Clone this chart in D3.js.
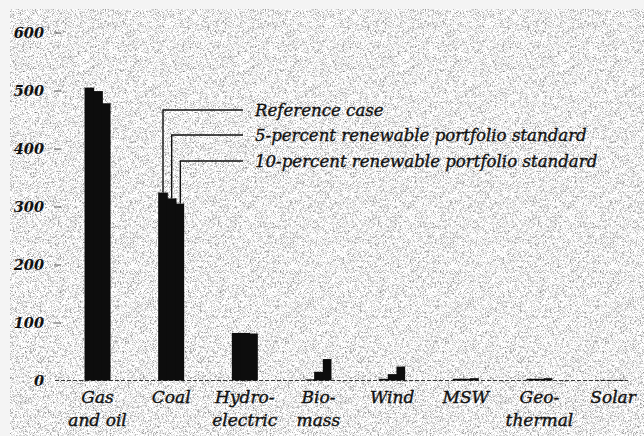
<!DOCTYPE html>
<html>
<head>
<meta charset="utf-8">
<script src="https://cdn.jsdelivr.net/npm/d3@7"></script>
<style>
  body { margin: 0; background: #f4f4f4; }
  svg { display: block; }
  .tick text { font-family: "DejaVu Serif", serif; font-style: italic; font-weight: bold; font-size: 14.5px; fill: #111; }
  .cat { font-family: "DejaVu Serif", serif; font-style: italic; font-size: 17px; fill: #111; stroke: #111; stroke-width: 0.35px; }
  .legend { font-family: "DejaVu Serif", serif; font-style: italic; font-size: 16.6px; fill: #111; stroke: #111; stroke-width: 0.35px; }
</style>
</head>
<body>
<div class="chart"></div>
<script>
var svgWidth = 644;
var svgHeight = 436;

// capacity by source, gigawatts
var categories = ["Gas and oil", "Coal", "Hydroelectric", "Biomass", "Wind", "MSW", "Geothermal", "Solar"];
var catLabels = [["Gas", "and oil"], ["Coal"], ["Hydro-", "electric"], ["Bio-", "mass"], ["Wind"], ["MSW"], ["Geo-", "thermal"], ["Solar"]];
var seriesNames = ["Reference case", "5-percent renewable portfolio standard", "10-percent renewable portfolio standard"];
var referenceCase = [505, 324, 82, 2, 3, 3, 3, 1];
var rps5 = [499, 314, 82, 15, 11, 3, 3, 1];
var rps10 = [478, 305, 81, 37, 24, 4, 4, 1];
var yTicks = [0, 100, 200, 300, 400, 500, 600];

var series = [referenceCase, rps5, rps10];

var svg = d3.select(".chart")
  .append("svg")
  .attr("width", svgWidth)
  .attr("height", svgHeight);

// fine grain like the printed screen
var filter = svg.append("defs").append("filter")
  .attr("id", "grain")
  .attr("x", 0).attr("y", 0).attr("width", 1).attr("height", 1)
  .attr("color-interpolation-filters", "sRGB");
filter.append("feTurbulence")
  .attr("type", "fractalNoise")
  .attr("baseFrequency", "1.6 1.2")
  .attr("numOctaves", 1)
  .attr("seed", 3);
filter.append("feColorMatrix")
  .attr("type", "matrix")
  .attr("values", "1.5 0 0 0 0.2  1.5 0 0 0 0.2  1.5 0 0 0 0.2  0 0 0 0 1");

svg.append("rect")
  .attr("x", 10)
  .attr("y", 9)
  .attr("width", svgWidth - 10)
  .attr("height", svgHeight - 9)
  .attr("fill", "#c8c8c8")
  .attr("filter", "url(#grain)");

var yScale = d3.scaleLinear()
  .domain([0, 600])
  .range([380.5, 32.5]);

var xScale = d3.scaleBand()
  .domain(categories)
  .range([60.7, 649.9])
  .paddingInner(0.647)
  .paddingOuter(0.3235);

var xInner = d3.scaleBand()
  .domain(d3.range(series.length))
  .range([0, xScale.bandwidth()]);

// y axis: short dashes right of the numbers
var leftAxis = d3.axisLeft(yScale)
  .tickValues(yTicks)
  .tickSize(7)
  .tickPadding(10);

var yAxis = svg.append("g")
  .attr("transform", "translate(61,0)")
  .call(leftAxis);
yAxis.select(".domain").remove();
yAxis.selectAll(".tick line")
  .attr("stroke", "#555")
  .attr("stroke-width", 1)
  .filter(function(d) { return d === 0; })
  .remove();
yAxis.selectAll(".tick text").attr("dy", "0.35em");

// zero line
svg.append("line")
  .attr("x1", 55)
  .attr("x2", 628)
  .attr("y1", yScale(0))
  .attr("y2", yScale(0))
  .attr("stroke", "#333")
  .attr("stroke-width", 1)
  .attr("stroke-dasharray", "4,2");

// bars
var groups = svg.selectAll(".group")
  .data(categories)
  .enter().append("g")
  .attr("class", "group")
  .attr("transform", function(d) { return "translate(" + xScale(d) + ",0)"; });

groups.selectAll("rect")
  .data(function(d, i) { return series.map(function(s, j) { return { j: j, v: s[i] }; }); })
  .enter().append("rect")
  .attr("x", function(d) { return xInner(d.j); })
  .attr("width", function(d) { return xInner.bandwidth() + (d.j < series.length - 1 ? 1 : 0); })
  .attr("y", function(d) { return yScale(d.v); })
  .attr("height", function(d) { return yScale(0) - yScale(d.v); })
  .attr("fill", "#0d0d0d");

// category labels
svg.selectAll(".cat")
  .data(catLabels)
  .enter().append("text")
  .attr("class", "cat")
  .attr("text-anchor", "middle")
  .attr("x", function(d, i) { return xScale(categories[i]) + xScale.bandwidth() / 2; })
  .attr("y", 403)
  .selectAll("tspan")
  .data(function(d) { return d; })
  .enter().append("tspan")
  .attr("x", function() { return d3.select(this.parentNode).attr("x"); })
  .attr("dy", function(d, i) { return i === 0 ? 0 : 23; })
  .text(function(d) { return d; });

// legend with leader lines from the coal bars
var coalIndex = categories.indexOf("Coal");
var legendX = 243;
var legendY = [110, 135, 161];

series.forEach(function(s, j) {
  var bx = xScale("Coal") + xInner(j) + xInner.bandwidth() / 2 + 0.5;
  svg.append("path")
    .attr("d", "M" + bx + "," + yScale(s[coalIndex]) + "V" + legendY[j] + "H" + legendX)
    .attr("fill", "none")
    .attr("stroke", "#111")
    .attr("stroke-width", 1.4);
  svg.append("text")
    .attr("class", "legend")
    .attr("x", legendX + 12)
    .attr("y", legendY[j] + 6)
    .text(seriesNames[j]);
});
</script>
</body>
</html>
